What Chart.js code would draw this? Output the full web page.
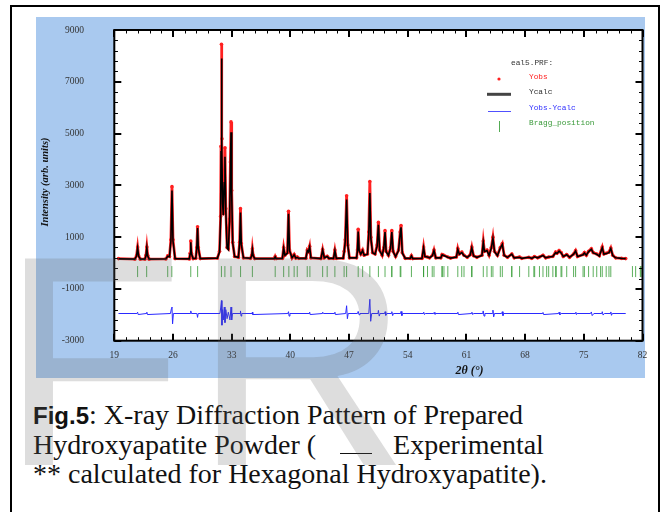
<!DOCTYPE html>
<html>
<head>
<meta charset="utf-8">
<script src="https://cdn.jsdelivr.net/npm/chart.js@4.4.1/dist/chart.umd.min.js"></script>
<style>
  html, body { margin: 0; padding: 0; }
  body { width: 665px; height: 512px; overflow: hidden; background: #fff; position: relative; }
  #frame { position: absolute; left: 10px; top: 5px; width: 650px; height: 530px; border: 2px solid #000; box-sizing: border-box; }
  #bluebox { position: absolute; left: 36px; top: 17px; width: 609px; height: 361px; background: #a9c9ef; }
  #c { position: absolute; left: 36px; top: 17px; }
  .line { position: absolute; left: 33px; font-family: 'Liberation Serif', serif; font-size: 28px; line-height: 30px; white-space: nowrap; color: #111; }
  .line b { font-family: 'Liberation Sans', Arial, sans-serif; font-size: 24px; }
  .dash { display: inline-block; width: 32px; height: 2px; margin: 0 21px 0 24px; border-bottom: 1.5px solid #111; }
  .wm { position: absolute; font-family: 'Liberation Sans', Arial, sans-serif; font-size: 300px; line-height: 300px; color: rgba(100,100,100,0.22); pointer-events: none; }
</style>
</head>
<body>
<div id="frame"></div>
<div id="bluebox"></div>
<canvas id="c" width="625" height="361"></canvas>
<div class="line" style="top:399.6px"><b>Fig.5</b>: X-ray Diffraction Pattern of Prepared</div>
<div class="line" style="top:429.6px">Hydroxyapatite Powder (<span class="dash"></span>Experimental</div>
<div class="line" style="top:458.6px">** calculated for Hexagonal Hydroxyapatite).</div>
<div class="wm" style="left:0.4px; top:211px">F</div>
<div class="wm" style="left:193.3px; top:211px">R</div>
<script>
// 2-theta (deg) of the profile points, observed and calculated intensity
const twoTheta = [
  19.50, 21.45, 21.65, 21.78, 21.90, 22.10, 22.65, 22.78, 22.88, 22.98,
  23.15, 25.15, 25.37, 25.58, 25.75, 25.88, 26.00, 26.25, 27.95, 28.05,
  28.12, 28.20, 28.40, 28.72, 28.84, 28.93, 29.02, 29.25, 31.30, 31.55,
  31.68, 31.73, 31.78, 31.84, 31.92, 32.00, 32.12, 32.20, 32.30, 32.45,
  32.60, 32.75, 32.85, 32.92, 33.00, 33.12, 33.35, 33.80, 33.95, 34.05,
  34.15, 34.40, 35.25, 35.40, 35.47, 35.56, 35.75, 38.10, 38.19, 38.30,
  39.05, 39.20, 39.35, 39.65, 39.78, 39.90, 40.20, 40.45, 40.65, 40.82,
  41.00, 41.85, 42.02, 42.15, 42.30, 42.45, 43.65, 43.85, 44.05, 44.39,
  44.60, 45.15, 45.31, 45.48, 46.30, 46.42, 46.55, 46.71, 46.85, 47.05,
  47.90, 48.00, 48.09, 48.20, 48.40, 48.62, 48.80, 49.20, 49.35, 49.48,
  49.60, 49.80, 50.10, 50.35, 50.50, 50.65, 50.95, 51.15, 51.29, 51.42,
  51.70, 51.95, 52.10, 52.25, 52.55, 52.90, 53.10, 53.20, 53.35, 53.70,
  54.30, 54.44, 54.60, 55.70, 55.89, 56.05, 56.36, 56.60, 56.95, 57.13,
  57.35, 57.95, 58.10, 58.30, 58.78, 59.10, 59.80, 59.97, 60.15, 60.45,
  60.71, 61.10, 61.45, 61.64, 61.85, 62.25, 62.85, 63.01, 63.15, 63.45,
  63.70, 63.97, 64.16, 64.35, 64.70, 65.04, 65.28, 65.50, 65.90, 66.41,
  66.70, 67.34, 67.60, 68.44, 68.80, 69.10, 69.50, 69.71, 70.13, 70.45,
  70.81, 71.30, 71.64, 71.80, 72.05, 72.30, 72.55, 72.96, 73.30, 73.78,
  74.02, 74.25, 74.91, 75.07, 75.30, 75.57, 75.90, 76.12, 76.54, 76.85,
  77.20, 77.40, 77.67, 78.00, 78.22, 78.45, 78.80, 79.50, 80.00
];
const yObs = [
  170, 150, 280, 620, 280, 150, 150, 300, 620, 300,
  150, 160, 280, 250, 900, 2950, 900, 170, 160, 380,
  850, 380, 170, 180, 600, 1400, 600, 170, 190, 450,
  1800, 4500, 8450, 4800, 2400, 1900, 3300, 4450, 2100, 600,
  550, 1700, 3900, 5450, 2800, 800, 250, 220, 800, 2100,
  750, 200, 180, 300, 550, 300, 170, 170, 250, 170,
  180, 600, 300, 400, 2000, 500, 200, 330, 190, 230,
  180, 180, 500, 450, 650, 200, 170, 520, 200, 260,
  180, 180, 500, 180, 190, 450, 900, 2600, 700, 200,
  200, 500, 1300, 500, 350, 500, 300, 350, 1200, 3150,
  1000, 400, 350, 700, 1570, 500, 300, 600, 1250, 450,
  300, 600, 1250, 450, 250, 500, 1200, 1450, 400, 180,
  180, 280, 170, 180, 620, 250, 230, 200, 300, 500,
  200, 200, 330, 300, 230, 190, 230, 560, 350, 420,
  300, 220, 320, 620, 280, 220, 300, 850, 450, 500,
  300, 600, 1000, 450, 300, 600, 750, 300, 220, 350,
  200, 230, 180, 220, 180, 250, 200, 230, 300, 200,
  230, 250, 420, 380, 480, 400, 250, 330, 220, 350,
  480, 250, 330, 400, 300, 450, 550, 400, 350, 280,
  620, 350, 380, 420, 580, 300, 200, 180, 170
];
const yCalc = [
  160, 150, 270, 580, 270, 150, 150, 280, 590, 280,
  150, 160, 260, 240, 850, 2800, 850, 170, 160, 360,
  800, 360, 170, 180, 580, 1350, 580, 170, 190, 430,
  1700, 4300, 7900, 4600, 2300, 1850, 3100, 4100, 2000, 580,
  520, 1600, 3700, 5050, 2700, 780, 250, 220, 760, 1950,
  720, 200, 180, 290, 520, 290, 170, 170, 240, 170,
  180, 570, 300, 380, 1900, 480, 200, 320, 190, 220,
  180, 180, 480, 430, 620, 200, 170, 500, 200, 250,
  180, 180, 480, 180, 190, 430, 850, 2450, 680, 200,
  200, 480, 1220, 480, 340, 480, 300, 340, 1100, 2700,
  950, 400, 340, 650, 1480, 480, 300, 580, 1200, 440,
  300, 580, 1200, 440, 250, 480, 1150, 1380, 390, 180,
  180, 270, 170, 180, 590, 250, 230, 200, 290, 480,
  200, 200, 320, 290, 220, 190, 230, 530, 340, 400,
  290, 220, 310, 590, 270, 220, 290, 800, 440, 480,
  300, 580, 950, 440, 290, 580, 720, 290, 220, 340,
  200, 220, 180, 220, 180, 240, 200, 230, 290, 200,
  230, 250, 400, 370, 460, 390, 250, 320, 220, 340,
  460, 250, 320, 390, 300, 440, 530, 390, 340, 270,
  590, 340, 370, 400, 560, 290, 200, 180, 170
];

// difference curve Yobs-Ycalc (shifted down)
const diffX = [
  19.5, 21.7, 21.78, 21.85, 22.8, 22.88, 22.95,
  25.7, 25.82, 25.88, 25.95, 26.05, 28.05, 28.12, 28.2, 28.85, 28.93, 29.0,
  31.6, 31.7, 31.78, 31.84, 31.92, 32.0, 32.12, 32.2, 32.3, 32.45, 32.6, 32.8, 32.92, 33.0, 33.1,
  34.0, 34.05, 34.12, 34.2, 35.42, 35.47, 35.52, 39.7, 39.78, 39.85, 39.95,
  42.25, 42.3, 42.36, 43.8, 43.85, 43.95, 45.26, 45.31, 45.37,
  46.6, 46.71, 46.8, 46.9, 48.0, 48.09, 48.2, 48.3, 49.35, 49.48, 49.58, 49.7,
  50.45, 50.5, 50.6, 50.7, 51.25, 51.3, 51.38, 51.5, 52.05, 52.1, 52.2, 52.3,
  53.15, 53.2, 53.3, 53.4, 55.85, 55.9, 56.0, 56.1, 57.1, 57.15, 57.25, 57.35,
  59.92, 59.97, 60.05, 61.6, 61.65, 61.75, 61.85, 62.95, 63.0, 63.1, 63.2,
  64.1, 64.16, 64.25, 64.35, 65.2, 65.28, 65.36, 65.45, 70.08, 70.13, 70.2,
  72.0, 72.05, 72.15, 72.3, 74.0, 74.05, 74.12, 74.2, 75.8, 75.9, 76.0, 76.2,
  77.15, 77.2, 77.3, 77.45, 78.15, 78.22, 78.3, 78.4, 80.0
];
const diffY = [
  -1950, -1950, -1900, -1990, -1950, -1900, -1990,
  -1950, -1750, -1700, -2350, -1950, -1950, -1850, -1950, -1950, -2100, -1950,
  -1950, -1700, -1450, -2400, -1800, -2200, -1700, -2300, -1800, -2150, -1900, -2200, -1700, -2200, -1950,
  -1950, -1850, -2050, -1950, -1950, -1900, -1990, -1950, -1880, -2050, -1950,
  -1950, -1900, -1990, -1950, -1900, -1950, -1950, -1900, -1990,
  -1950, -1650, -2150, -1950, -1950, -1870, -2000, -1950, -1950, -1400, -2250, -1950,
  -1950, -1830, -2050, -1950, -1950, -1880, -2020, -1950, -1950, -1880, -2030, -1950,
  -1950, -1870, -2030, -1950, -1950, -1900, -1990, -1950, -1950, -1910, -1980, -1950,
  -1950, -1900, -1990, -1950, -1900, -1990, -1950, -1950, -1850, -2050, -1950,
  -1950, -1820, -2080, -1950, -1950, -1880, -2030, -1950, -1950, -1910, -1990,
  -1950, -1900, -2000, -1950, -1950, -1900, -1990, -1950, -1950, -1890, -2030, -1950,
  -1950, -1880, -2010, -1950, -1950, -1890, -2020, -1950, -1950
];

// Bragg reflection positions (2-theta)
const braggPos = [
  21.78, 22.86, 25.37, 25.86, 28.12, 28.94, 31.78, 32.19, 32.92, 34.06, 35.47,
  38.19, 39.20, 39.82, 40.45, 40.82, 42.01, 42.33, 43.85, 44.39, 45.31, 46.41,
  46.71, 48.09, 48.62, 49.48, 50.50, 51.29, 52.09, 52.11, 53.10, 53.18, 54.44,
  55.88, 55.90, 56.36, 56.92, 57.13, 58.07, 58.13, 58.32, 58.78, 59.97, 60.44,
  60.71, 61.61, 61.67, 63.01, 63.45, 63.97, 64.16, 65.04, 65.28, 66.40, 66.42,
  67.34, 68.44, 69.04, 69.14, 69.71, 70.13, 70.57, 70.81, 71.31, 71.64, 71.71,
  72.28, 72.38, 72.96, 73.78, 74.02, 74.91, 75.07, 75.57, 76.12, 76.54, 77.00,
  77.20, 77.67, 78.00, 78.22, 80.80, 81.18, 81.74, 81.83
];
const braggLevel = -330;

const xTickVals = [19, 26, 33, 40, 47, 54, 61, 68, 75, 82];
const yTickVals = [-3000, -1000, 1000, 3000, 5000, 7000, 9000];

const obsPts  = twoTheta.map((x, i) => ({ x, y: yObs[i] }));
const calcPts = twoTheta.map((x, i) => ({ x, y: yCalc[i] }));
const diffPts = diffX.map((x, i) => ({ x, y: diffY[i] }));
const braggPts = braggPos.map(x => ({ x, y: braggLevel }));

// white plot area, frame with inward ticks, axis titles and the FullProf-style key
const plotDecor = {
  id: 'plotDecor',
  beforeDatasetsDraw(chart) {
    const { ctx, chartArea: a } = chart;
    ctx.save();
    ctx.fillStyle = '#fff';
    ctx.fillRect(a.left, a.top, a.right - a.left, a.bottom - a.top);
    ctx.restore();
  },
  afterDraw(chart) {
    const { ctx, chartArea: a, scales } = chart;
    const xs = scales.x, ys = scales.y;
    ctx.save();
    ctx.strokeStyle = '#000';

    // inward ticks
    const xStep = xTickVals[1] - xTickVals[0];
    const yStep = yTickVals[1] - yTickVals[0];
    ctx.lineWidth = 1;
    ctx.beginPath();
    xTickVals.forEach(v => {
      for (let k = 1; k < 5; k++) {
        const px = Math.round(xs.getPixelForValue(v + k * xStep / 5)) + 0.5;
        if (px >= a.right) continue;
        ctx.moveTo(px, a.bottom); ctx.lineTo(px, a.bottom - 3.5);
        ctx.moveTo(px, a.top); ctx.lineTo(px, a.top + 3.5);
      }
    });
    yTickVals.forEach(v => {
      for (let k = -4; k < 5; k++) {
        if (k === 0) continue;
        const val = v + k * yStep / 5;
        if (val <= ys.min || val >= ys.max) continue;
        const py = Math.round(ys.getPixelForValue(val)) + 0.5;
        ctx.moveTo(a.left, py); ctx.lineTo(a.left + 3.5, py);
        ctx.moveTo(a.right, py); ctx.lineTo(a.right - 3.5, py);
      }
    });
    ctx.stroke();
    ctx.lineWidth = 2;
    ctx.beginPath();
    xTickVals.forEach(v => {
      const px = Math.round(xs.getPixelForValue(v));
      ctx.moveTo(px, a.bottom); ctx.lineTo(px, a.bottom - 7);
      ctx.moveTo(px, a.top); ctx.lineTo(px, a.top + 7);
    });
    yTickVals.forEach(v => {
      const py = Math.round(ys.getPixelForValue(v));
      ctx.moveTo(a.left, py); ctx.lineTo(a.left + 7, py);
      ctx.moveTo(a.right, py); ctx.lineTo(a.right - 7, py);
    });
    ctx.stroke();

    // frame
    ctx.lineWidth = 2;
    ctx.strokeRect(a.left, a.top, a.right - a.left, a.bottom - a.top);

    // axis titles
    ctx.fillStyle = '#111';
    ctx.textAlign = 'center';
    ctx.textBaseline = 'middle';
    ctx.font = 'italic bold 10.5px "Liberation Serif"';
    ctx.save();
    ctx.translate(9, 165);
    ctx.rotate(-Math.PI / 2);
    ctx.fillText('Intensity (arb. units)', 0, 0);
    ctx.restore();
    ctx.font = 'italic bold 12px "Liberation Serif"';
    ctx.fillText('2\u03B8 (\u00B0)', 433.5, 353.7);

    // key
    ctx.textAlign = 'left';
    ctx.font = '7.8px "Liberation Mono"';
    ctx.fillStyle = '#333';
    ctx.fillText('eal5.PRF:', 475, 45.7);
    ctx.fillStyle = '#ff2020';
    ctx.fillText('Yobs', 493, 59.7);
    ctx.beginPath(); ctx.arc(463, 62, 1.6, 0, Math.PI * 2); ctx.fill();
    ctx.fillStyle = '#333';
    ctx.fillText('Ycalc', 493, 75);
    ctx.strokeStyle = '#444'; ctx.lineWidth = 3;
    ctx.beginPath(); ctx.moveTo(451, 77.3); ctx.lineTo(475, 77.3); ctx.stroke();
    ctx.fillStyle = '#3030ff';
    ctx.fillText('Yobs-Ycalc', 493, 90.7);
    ctx.strokeStyle = '#5050ff'; ctx.lineWidth = 1;
    ctx.beginPath(); ctx.moveTo(452, 94.5); ctx.lineTo(475, 94.5); ctx.stroke();
    ctx.fillStyle = '#3a9a3a';
    ctx.fillText('Bragg_position', 493, 105.7);
    ctx.strokeStyle = 'rgba(40,150,40,0.8)';
    ctx.beginPath(); ctx.moveTo(463.5, 104); ctx.lineTo(463.5, 115); ctx.stroke();
    ctx.restore();
  }
};

const tickFont = { family: 'Liberation Serif', size: 9.5 };

new Chart(document.getElementById('c'), {
  type: 'scatter',
  data: {
    datasets: [
      { label: 'Ycalc', data: calcPts, showLine: true, borderColor: '#000', borderWidth: 1.6,
        pointRadius: 0, tension: 0, order: 1 },
      { label: 'Yobs', data: obsPts, showLine: true, borderColor: '#ff2020', borderWidth: 2.8,
        pointRadius: 1.8, pointBackgroundColor: '#ff2020', pointBorderWidth: 0, tension: 0, order: 2 },
      { label: 'Yobs-Ycalc', data: diffPts, showLine: true, borderColor: '#2a2aff', borderWidth: 1,
        pointRadius: 0, tension: 0, order: 3 },
      { label: 'Bragg_position', data: braggPts, showLine: false, pointStyle: 'line', pointRotation: 90,
        pointRadius: 5.5, pointBorderColor: 'rgba(40,150,40,0.75)', pointBorderWidth: 1, order: 4 },
    ],
  },
  options: {
    responsive: false,
    animation: false,
    events: [],
    layout: { padding: { left: 0, top: 13, right: 18.5, bottom: 0 } },
    plugins: { legend: { display: false }, tooltip: { enabled: false } },
    scales: {
      x: {
        type: 'linear', min: 19, max: 82,
        grid: { display: false, drawTicks: false }, border: { display: false },
        afterBuildTicks: s => { s.ticks = xTickVals.map(v => ({ value: v })); },
        afterFit: s => { s.height = 37.3; s.paddingLeft = 0; s.paddingRight = 0; },
        ticks: { padding: 9, font: tickFont, color: '#333', maxRotation: 0, autoSkip: false },
      },
      y: {
        type: 'linear', min: -3000, max: 9000,
        grid: { display: false, drawTicks: false }, border: { display: false },
        afterBuildTicks: s => { s.ticks = yTickVals.map(v => ({ value: v })); },
        afterFit: s => { s.width = 78.3; s.paddingTop = 0; s.paddingBottom = 0; },
        ticks: { padding: 30.3, font: tickFont, color: '#333', autoSkip: false,
          callback: v => String(v) },
      },
    },
  },
  plugins: [plotDecor],
});
</script>
</body>
</html>
